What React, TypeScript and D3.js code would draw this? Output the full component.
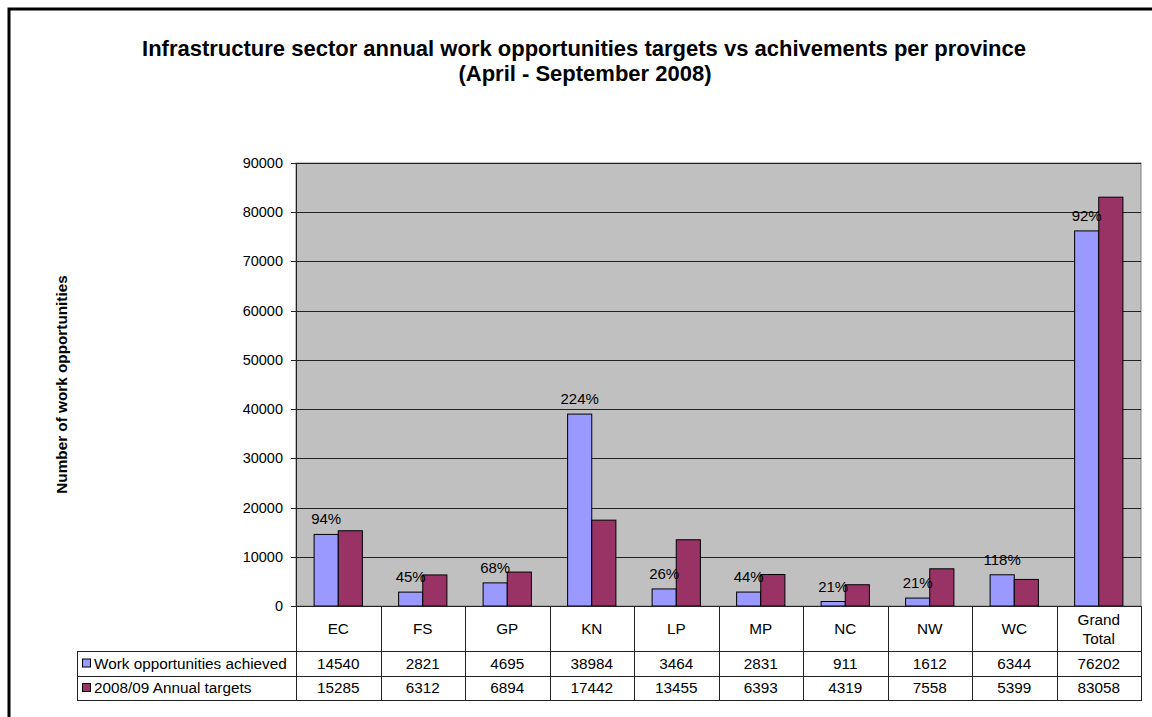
import React from "react";
import * as d3 from "d3";

const categories = ["EC", "FS", "GP", "KN", "LP", "MP", "NC", "NW", "WC", "Grand Total"];
const achieved = [14540, 2821, 4695, 38984, 3464, 2831, 911, 1612, 6344, 76202];
const targets = [15285, 6312, 6894, 17442, 13455, 6393, 4319, 7558, 5399, 83058];
const pctLabels = ["94%", "45%", "68%", "224%", "26%", "44%", "21%", "21%", "118%", "92%"];
const seriesNames = ["Work opportunities achieved", "2008/09 Annual targets"];
const seriesColors = ["#9999FF", "#993366"];
const yTicks = [0, 10000, 20000, 30000, 40000, 50000, 60000, 70000, 80000, 90000];
const titleLines = [
  "Infrastructure sector annual work opportunities targets vs achivements per province",
  "(April - September 2008)",
];
const yTitle = "Number of work opportunities";

const FONT = "'Liberation Sans', Arial, sans-serif";

export default function App() {
  const W = 1152, H = 717;
  const left = 296, right = 1141, top = 163, bottom = 606;
  const row1 = 651, row2 = 676, row3 = 700;
  const legendLeft = 77;

  const x = d3.scaleBand<string>().domain(categories).range([left, right]).paddingInner(0).paddingOuter(0);
  const x1 = d3.scaleBand<number>().domain([0, 1]).range([0, x.bandwidth()]).paddingInner(0).paddingOuter(0.75);
  const y = d3.scaleLinear().domain([0, 90000]).range([bottom, top]);
  const seriesData = [achieved, targets];

  const boundaries = categories.map((c) => x(c)!).concat([right]);

  return (
    <svg width={W} height={H} style={{ position: "absolute", left: 0, top: 0 }} fontFamily={FONT}>
      <rect x={0} y={0} width={W} height={H} fill="#fff" />
      {/* outer frame */}
      <rect x={9} y={9} width={W + 20} height={H + 20} fill="none" stroke="#000" strokeWidth={3} />
      {/* title */}
      <text x={584} y={56} textAnchor="middle" fontSize={22} fontWeight="bold">{titleLines[0]}</text>
      <text x={585} y={81} textAnchor="middle" fontSize={22} fontWeight="bold">{titleLines[1]}</text>

      {/* plot area */}
      <rect x={left} y={top} width={right - left} height={bottom - top} fill="#C0C0C0" stroke="#808080" strokeWidth={1} />
      {yTicks.map((t) => (
        <g key={t}>
          {t > 0 && (
            <line x1={left} x2={right} y1={Math.round(y(t)) + 0.5} y2={Math.round(y(t)) + 0.5} stroke="#222" strokeWidth={1} />
          )}
          <line x1={left - 5} x2={left} y1={Math.round(y(t)) + 0.5} y2={Math.round(y(t)) + 0.5} stroke="#222" strokeWidth={1} />
          <text x={283} y={y(t) + 5} textAnchor="end" fontSize={14.5} fill="#000">{t}</text>
        </g>
      ))}
      {/* left axis */}
      <line x1={left + 0.5} x2={left + 0.5} y1={top} y2={row3} stroke="#222" strokeWidth={1} />

      {/* bars */}
      {categories.map((c, i) => (
        <g key={c}>
          {seriesData.map((s, j) => (
            <rect
              key={j}
              x={x(c)! + x1(j)!}
              y={y(s[i])}
              width={x1.bandwidth()}
              height={bottom - y(s[i])}
              fill={seriesColors[j]}
              stroke="#000"
              strokeWidth={1}
            />
          ))}
          <text
            x={x(c)! + x1(0)! + x1.bandwidth() / 2}
            y={y(achieved[i]) - 10}
            textAnchor="middle"
            fontSize={15}
            fill="#000"
          >
            {pctLabels[i]}
          </text>
        </g>
      ))}

      {/* data table */}
      <line x1={left} x2={right} y1={bottom + 0.5} y2={bottom + 0.5} stroke="#222" strokeWidth={1} />
      {[row1, row2, row3].map((ry) => (
        <line key={ry} x1={legendLeft} x2={right} y1={ry + 0.5} y2={ry + 0.5} stroke="#222" strokeWidth={1} />
      ))}
      <line x1={legendLeft + 0.5} x2={legendLeft + 0.5} y1={row1} y2={row3 + 1} stroke="#222" strokeWidth={1} />
      {boundaries.map((bx, i) => (
        <line key={i} x1={Math.round(bx) + 0.5} x2={Math.round(bx) + 0.5} y1={bottom} y2={row3 + 1} stroke="#222" strokeWidth={1} />
      ))}
      {categories.map((c, i) => {
        const cx = x(c)! + x.bandwidth() / 2;
        const parts = c === "Grand Total" ? ["Grand", "Total"] : [c];
        return (
          <g key={c}>
            {parts.length === 1 ? (
              <text x={cx} y={(bottom + row1) / 2 + 5} textAnchor="middle" fontSize={15.3}>{c}</text>
            ) : (
              parts.map((p, k) => (
                <text key={k} x={cx} y={(bottom + row1) / 2 - 4 + k * 19} textAnchor="middle" fontSize={15.3}>{p}</text>
              ))
            )}
            <text x={cx} y={(row1 + row2) / 2 + 5} textAnchor="middle" fontSize={15.3}>{achieved[i]}</text>
            <text x={cx} y={(row2 + row3) / 2 + 5} textAnchor="middle" fontSize={15.3}>{targets[i]}</text>
          </g>
        );
      })}
      {/* legend keys in table */}
      {seriesNames.map((n, j) => {
        const cy = j === 0 ? (row1 + row2) / 2 : (row2 + row3) / 2;
        return (
          <g key={n}>
            <rect x={82.5} y={cy - 4.5} width={8} height={8} fill={seriesColors[j]} stroke="#000" strokeWidth={1} />
            <text x={94} y={cy + 5} fontSize={15.3}>{n}</text>
          </g>
        );
      })}

      {/* y axis title */}
      <text
        transform={`translate(67, ${(top + bottom) / 2}) rotate(-90)`}
        textAnchor="middle"
        fontSize={15.3}
        fontWeight="bold"
      >
        {yTitle}
      </text>
    </svg>
  );
}
